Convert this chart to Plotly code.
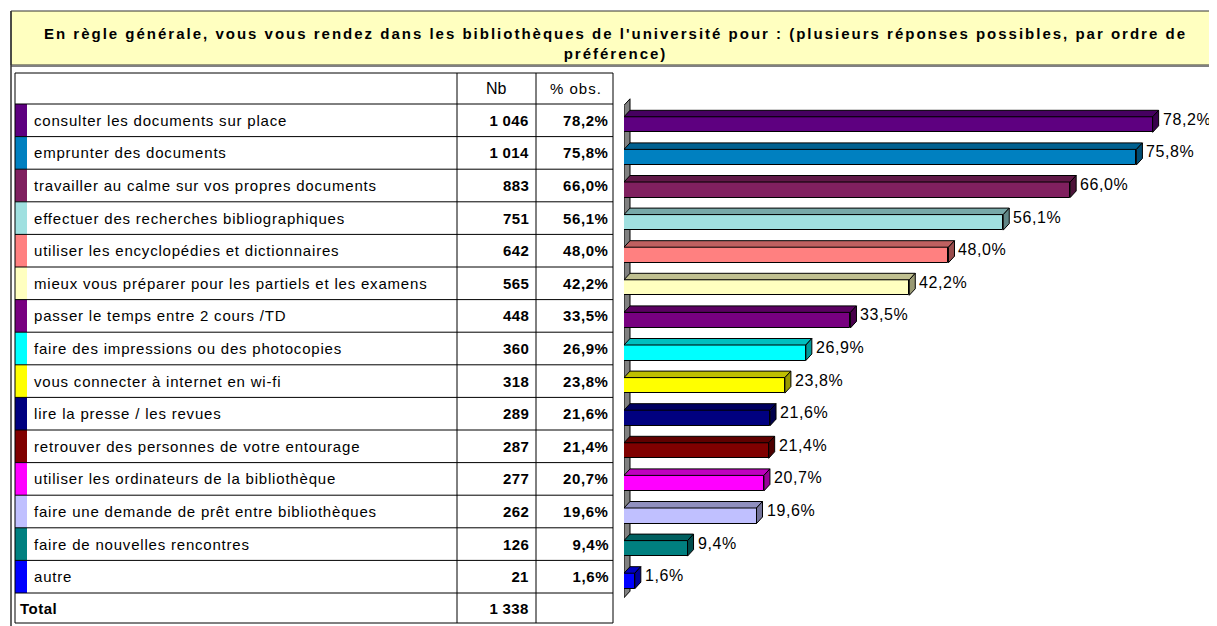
import json
import plotly.graph_objects as go

# ---------------- data ----------------
labels = [
    "consulter les documents sur place",
    "emprunter des documents",
    "travailler au calme sur vos propres documents",
    "effectuer des recherches bibliographiques",
    "utiliser les encyclopédies et dictionnaires",
    "mieux vous préparer pour les partiels et les examens",
    "passer le temps entre 2 cours /TD",
    "faire des impressions ou des photocopies",
    "vous connecter à internet en wi-fi",
    "lire la presse / les revues",
    "retrouver des personnes de votre entourage",
    "utiliser les ordinateurs de la bibliothèque",
    "faire une demande de prêt entre bibliothèques",
    "faire de nouvelles rencontres",
    "autre",
]
counts = [1046, 1014, 883, 751, 642, 565, 448, 360, 318, 289, 287, 277, 262, 126, 21]
pcts = [78.2, 75.8, 66.0, 56.1, 48.0, 42.2, 33.5, 26.9, 23.8, 21.6, 21.4, 20.7, 19.6, 9.4, 1.6]
total_count = 1338
colors = ["#5E0080", "#0080C0", "#80205F", "#A0E0E0", "#FF8080", "#FFFFC0", "#780080",
          "#00FFFF", "#FFFF00", "#000080", "#800000", "#FF00FF", "#C0C0FF", "#008080", "#0000FF"]
header_nb = "Nb"
header_pct = "% obs."
total_label = "Total"
title_text = ("En règle générale, vous vous rendez dans les bibliothèques de l'université pour : "
              "(plusieurs réponses possibles, par ordre de<br>préférence)")

# ---------------- geometry (target pixels) ----------------
W, H = 1217, 626
OFF = 8                      # page body margin
FONT = "Liberation Sans, Arial, sans-serif"
TFS = 15                     # table font size
TITLE_TOP, TITLE_BOT = 11, 65
FRAME_X = 11
T_LEFT, T_SW, T_NB, T_PCT, T_RIGHT = 15, 27, 457, 536, 613
HEAD_TOP, ROW0_TOP, PITCH = 73, 104, 32.6
N = len(labels)
TOTAL_TOP = ROW0_TOP + PITCH * N
TOTAL_BOT = TOTAL_TOP + 30
BAR_X0 = 624                 # pixel of 0 %
PX_PER_PCT = 6.76
DX_PX, DY_PX = 6, 6.5        # 3D depth
BAR_H = 15.5
BAR_OFF = 4.25               # bar centre below row centre


def px(x):
    return (x - OFF) / W


def shade(hx, f):
    hx = hx.lstrip("#")
    r, g, b = (int(hx[i:i + 2], 16) for i in (0, 2, 4))
    return "#%02X%02X%02X" % (int(r * f), int(g * f), int(b * f))


def fmt_pct(v):
    return ("%.1f" % v).replace(".", ",") + "%"


def fmt_int(v):
    return "{:,}".format(v).replace(",", " ")


row_c = [ROW0_TOP + PITCH * (i + 0.5) for i in range(N)]
head_c = (HEAD_TOP + ROW0_TOP) / 2
total_c = (TOTAL_TOP + TOTAL_BOT) / 2

fig = go.Figure()

# front faces of the bars
fig.add_trace(go.Bar(
    x=pcts, y=[c + BAR_OFF for c in row_c], orientation="h", width=BAR_H,
    marker=dict(color=colors, line=dict(color="black", width=1)),
    hoverinfo="skip", showlegend=False,
))

shapes = []
dx = DX_PX / PX_PER_PCT

# 3D wall on the left of the bars
wall_top = row_c[0] - 15
wall_bot = row_c[-1] + 21
shapes.append(dict(type="path", xref="x", yref="y", layer="below",
                   path=f"M 0,{wall_bot} L 0,{wall_top} L {dx},{wall_top - DY_PX} L {dx},{wall_bot - DY_PX} Z",
                   fillcolor="#808080", line=dict(color="black", width=1)))

# top and side faces of each bar
for v, c, col in zip(pcts, row_c, colors):
    ft = c + BAR_OFF - BAR_H / 2
    fb = c + BAR_OFF + BAR_H / 2
    shapes.append(dict(type="path", xref="x", yref="y", layer="above",
                       path=f"M 0,{ft} L {v},{ft} L {v + dx},{ft - DY_PX} L {dx},{ft - DY_PX} Z",
                       fillcolor=shade(col, 0.75), line=dict(color="black", width=1)))
    shapes.append(dict(type="path", xref="x", yref="y", layer="above",
                       path=f"M {v},{ft} L {v + dx},{ft - DY_PX} L {v + dx},{fb - DY_PX} L {v},{fb} Z",
                       fillcolor=shade(col, 0.6), line=dict(color="black", width=1)))

# title box
shapes.append(dict(type="rect", xref="paper", yref="y", x0=px(FRAME_X), x1=px(W + 20),
                   y0=TITLE_TOP, y1=TITLE_BOT, fillcolor="#FFFFC0",
                   line=dict(color="#333333", width=1), layer="below"))
shapes.append(dict(type="line", xref="paper", yref="y", x0=px(FRAME_X), x1=px(W + 20),
                   y0=TITLE_BOT + 1, y1=TITLE_BOT + 1, line=dict(color="#808080", width=2)))
# outer frame left line
shapes.append(dict(type="line", xref="paper", yref="y", x0=px(FRAME_X), x1=px(FRAME_X),
                   y0=TITLE_TOP, y1=H + 20, line=dict(color="#333333", width=1.5)))

# swatches
for i, col in enumerate(colors):
    shapes.append(dict(type="rect", xref="paper", yref="y", x0=px(T_LEFT), x1=px(T_SW),
                       y0=ROW0_TOP + PITCH * i, y1=ROW0_TOP + PITCH * (i + 1),
                       fillcolor=col, line=dict(width=0), layer="below"))

# table lines
hlines = [HEAD_TOP] + [ROW0_TOP + PITCH * i for i in range(N + 1)] + [TOTAL_BOT]
for yv in hlines:
    shapes.append(dict(type="line", xref="paper", yref="y", x0=px(T_LEFT), x1=px(T_RIGHT),
                       y0=yv, y1=yv, line=dict(color="black", width=1)))
for xv in (T_LEFT, T_NB, T_PCT, T_RIGHT):
    shapes.append(dict(type="line", xref="paper", yref="y", x0=px(xv), x1=px(xv),
                       y0=HEAD_TOP, y1=TOTAL_BOT, line=dict(color="black", width=1)))

ann = []
spacing = {}   # annotation index -> letter spacing (px)
tf = dict(family=FONT, size=TFS, color="black")
tfb = dict(family=FONT, size=TFS, color="black", weight="bold")


def add_ann(ls=0, **kw):
    if ls:
        spacing[len(ann)] = ls
    ann.append(dict(showarrow=False, **kw))


add_ann(ls=2.0, xref="paper", yref="y", x=px((FRAME_X + W) / 2 + 1), y=43,
        text=title_text, xanchor="center", yanchor="middle", align="center",
        font=dict(family=FONT, size=15, color="black", weight="bold"))
add_ann(xref="paper", yref="y", x=px((T_NB + T_PCT) / 2), y=head_c, text=header_nb,
        xanchor="center", yanchor="middle", font=dict(family=FONT, size=16, color="black"))
add_ann(ls=1.0, xref="paper", yref="y", x=px((T_PCT + T_RIGHT) / 2 + 1), y=head_c, text=header_pct,
        xanchor="center", yanchor="middle", align="center",
        font=dict(family=FONT, size=15, color="black"))

for i in range(N):
    c = row_c[i]
    add_ann(ls=0.8, xref="paper", yref="y", x=px(T_SW + 5), y=c, text=labels[i],
            xanchor="left", yanchor="middle", align="left", font=tf)
    add_ann(ls=0.3, xref="paper", yref="y", x=px(T_PCT - 5), y=c, text=fmt_int(counts[i]),
            xanchor="right", yanchor="middle", align="right", font=tfb)
    add_ann(ls=0.6, xref="paper", yref="y", x=px(T_RIGHT - 2), y=c, text=fmt_pct(pcts[i]),
            xanchor="right", yanchor="middle", align="right", font=tfb)
    # value label next to each bar
    add_ann(ls=0.6, xref="x", yref="y", x=pcts[i], y=c - 1, text=fmt_pct(pcts[i]),
            xanchor="left", yanchor="middle", align="left", xshift=DX_PX + 2,
            font=dict(family=FONT, size=16, color="black"))

add_ann(ls=0.5, xref="paper", yref="y", x=px(T_LEFT + 3), y=total_c, text=total_label,
        xanchor="left", yanchor="middle", align="left", font=tfb)
add_ann(ls=0.3, xref="paper", yref="y", x=px(T_PCT - 5), y=total_c, text=fmt_int(total_count),
        xanchor="right", yanchor="middle", align="right", font=tfb)

fig.update_layout(
    width=W, height=H, margin=dict(l=0, r=0, t=0, b=0),
    paper_bgcolor="white", plot_bgcolor="rgba(0,0,0,0)",
    shapes=shapes, annotations=ann, showlegend=False, bargap=0,
    xaxis=dict(domain=[(BAR_X0 - OFF) / W, 1], range=[0, (W + OFF - BAR_X0) / PX_PER_PCT],
               visible=False, fixedrange=True),
    yaxis=dict(domain=[0, 1], range=[H + OFF, OFF], visible=False, fixedrange=True),
)

css = " ".join('.annotation[data-index="%d"] text{letter-spacing:%spx}' % (k, v)
               for k, v in spacing.items())
post = ("var s=document.createElement('style');s.textContent=%s;"
        "document.head.appendChild(s);" % json.dumps(css))

fig.write_html("out.html", config={"displayModeBar": False}, post_script=post)
